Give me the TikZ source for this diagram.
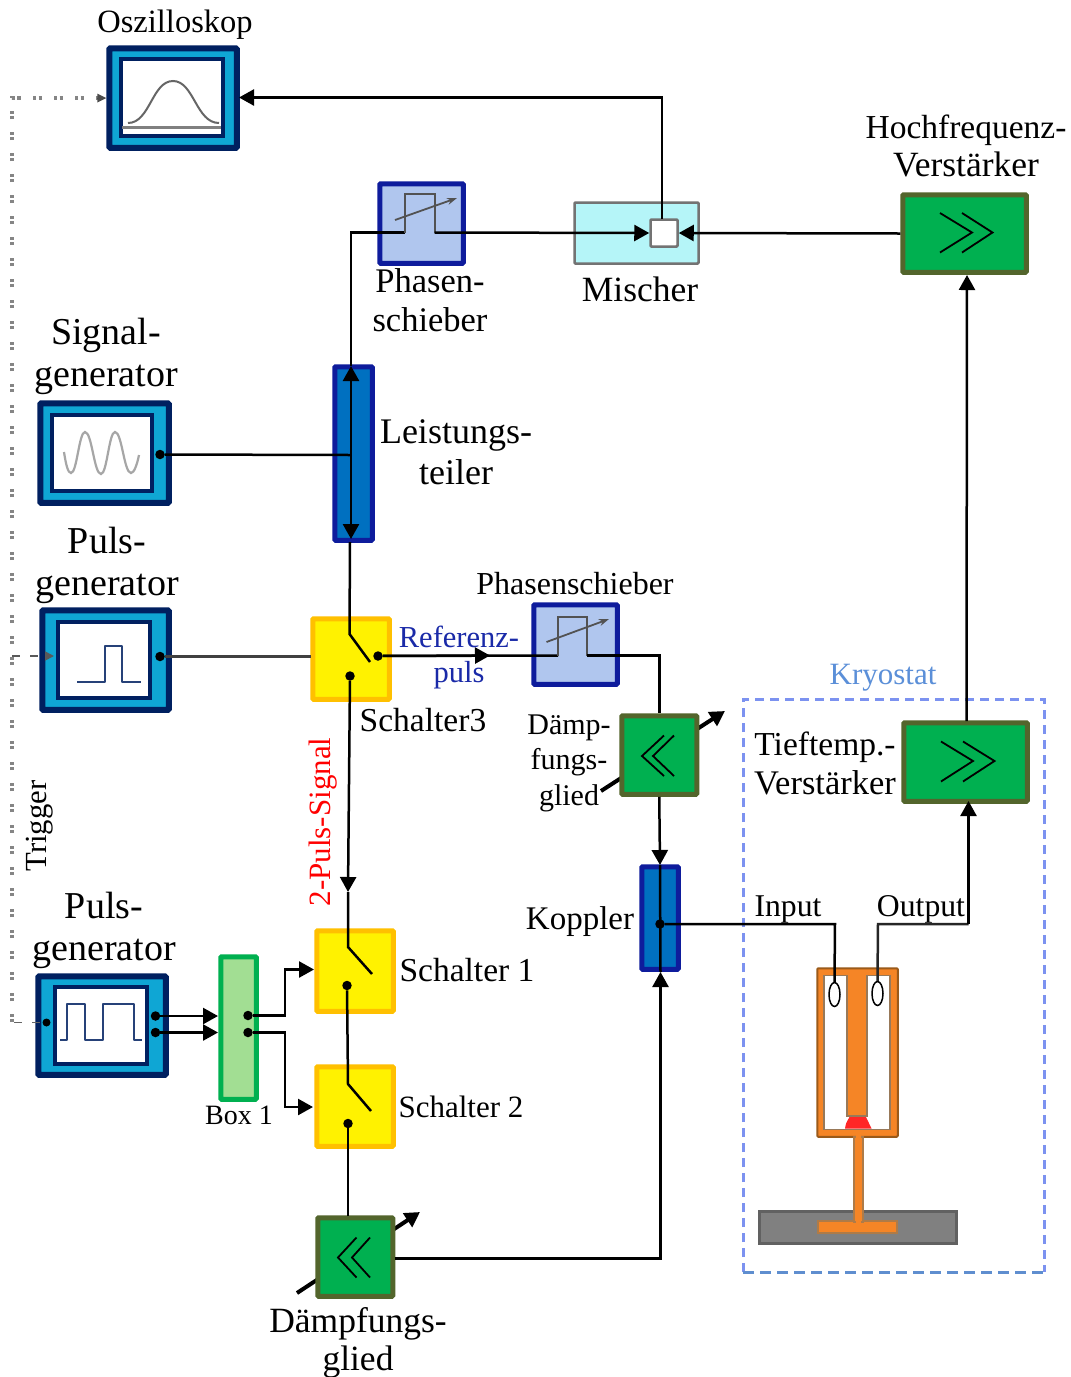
\documentclass[tikz,border=0pt]{standalone}
\usepackage{fontspec}
\setmainfont{Liberation Serif}
\usetikzlibrary{arrows.meta,shapes.geometric}
\definecolor{navyb}{HTML}{002060}
\definecolor{cyanb}{HTML}{0FA6D4}
\definecolor{royal}{HTML}{0E1C9C}
\definecolor{midb}{HTML}{0070C0}
\definecolor{paleb}{HTML}{B0C6EE}
\definecolor{mixf}{HTML}{B5F5F8}
\definecolor{amp}{HTML}{00B050}
\definecolor{ampe}{HTML}{53652C}
\definecolor{swe}{HTML}{FFC000}
\definecolor{boxf}{HTML}{A2DE93}
\definecolor{cavo}{HTML}{F58526}
\definecolor{cave}{HTML}{9A5A1A}
\definecolor{kry}{HTML}{7C92F0}
\definecolor{kryb}{HTML}{5F8ECF}
\definecolor{krytxt}{HTML}{5B8FD8}
\definecolor{reftxt}{HTML}{1A2AA8}
\newcommand{\pbox}[7]{\node[#2,line width=#3,inner sep=0,minimum width={#6-#4-#3+1.5},minimum height={#7-#5-#3+1.5}] (#1) at ({(#4+#6)/2},{(#5+#7)/2}) {};}
\newcommand{\fs}[2]{\fontsize{#1}{#2}\selectfont}
\tikzset{
 gen/.style={draw=navyb,fill=cyanb,rounded corners=1},
 screen/.style={draw=navyb,fill=white},
 shifter/.style={draw=royal,fill=paleb,rounded corners=1},
 splitter/.style={draw=royal,fill=midb,rounded corners=1},
 ampbox/.style={draw=ampe,fill=amp,rounded corners=1},
 switchbox/.style={draw=swe,fill=yellow,rounded corners=1},
 greenbox/.style={draw=amp,fill=boxf,rounded corners=1},
 wire/.style={draw=black,line width=2.5},
 bigtip/.style={-{Triangle[length=15pt,width=16pt]}},
 dot/.style={circle,fill=black,inner sep=0,minimum size=#1},
 dot/.default=9.5,
 symbolg/.style={draw=black!68,line width=2},
 chev/.style={draw=black,line width=1.8},
 diag/.style={draw=black,line width=4,-{Triangle[length=15pt,width=16pt]}},
 pulse/.style={draw=navyb!85,line width=2,line join=round},
 trig/.style={draw=black!48,line width=3.5,dash pattern=on 3pt off 2.5pt on 3pt off 12.5pt},
 trigthin/.style={draw=black!60,line width=1.8,dash pattern=on 8pt off 10pt},
 trigtip/.style={-{Triangle[length=9pt,width=9pt]}},
 lab/.style={inner sep=0,align=center,text=black},
 coupling/.style={ellipse,draw=black,fill=white,line width=1.5,inner sep=0,minimum width=11,minimum height=24},
}
\begin{document}
\begin{tikzpicture}[x=1pt,y=-1pt]
\useasboundingbox (0,0) rectangle (1071,1377);
\fill[white] (0,0) rectangle (1071,1377);

% Kryostat frame
\coordinate (krA) at (743,1272);
\coordinate (krB) at (743,699);
\coordinate (krC) at (1044,699);
\coordinate (krD) at (1044,1272);
\draw[kry,line width=3,dash pattern=on 9pt off 6pt] (krA) -- (krB) -- (krC) -- (krD);
\draw[kryb,line width=3,dash pattern=on 11pt off 6pt] (krA) -- (krD);

% trigger line
\coordinate (trTop) at (12,98);
\coordinate (trBot) at (12,1022);
\coordinate (trEnd) at (98,98);
\draw[trig] (trBot) -- (trTop) -- (trEnd);

% attenuator control arrows (behind boxes)
\coordinate (at2a) at (601,791); \coordinate (at2b) at (725,711);
\coordinate (at1a) at (297,1293); \coordinate (at1b) at (420,1212);
\draw[diag] (at2a) -- (at2b);
\draw[diag] (at1a) -- (at1b);

% Oszilloskop
\pbox{osz}{gen}{6}{107}{46}{239}{150}
\pbox{oszs}{screen}{4}{120}{58}{224}{137}
\draw[black!50,line width=2.5] (122,127.5) -- (221,127.5);
\draw[black!60,line width=2] (128,123) .. controls (150,123) and (152,81) .. (173,81) .. controls (194,81) and (196,123) .. (219,123);

% Signalgenerator
\pbox{sig}{gen}{6}{38}{401}{171}{505}
\pbox{sigs}{screen}{4}{51}{414}{153}{492}
\draw[black!35,line width=2.2] (64,452) .. controls (66,465) and (68,473) .. (71,473) .. controls (77,473) and (79,432) .. (85,432) .. controls (92,432) and (94,474) .. (101,474) .. controls (107,474) and (109,432) .. (115,432) .. controls (122,432) and (124,473) .. (131,473) .. controls (134,473) and (137,465) .. (139,455);

% Pulsgenerator (single)
\pbox{pg}{gen}{6}{40}{608}{171}{712}
\pbox{pgs}{screen}{4}{57}{621}{151}{699}
\draw[pulse] (77,681.5) -- (105,681.5) -- (105,645.5) -- (122,645.5) -- (122,681.5) -- (141,681.5);

% Pulsgenerator (double)
\pbox{pd}{gen}{6}{36}{974}{168}{1077}
\pbox{pds}{screen}{4}{54}{986}{148}{1065}
\draw[pulse] (60,1040) -- (67,1040) -- (67,1004) -- (84.5,1004) -- (84.5,1040) -- (103,1040) -- (103,1004) -- (133.5,1004) -- (133.5,1040) -- (142,1040);

% boxes
\pbox{ph}{shifter}{5}{378}{182}{465}{265}
\pbox{mix}{draw=black!55,fill=mixf,rounded corners=1}{2.5}{574}{202}{699}{264}
\pbox{mixc}{draw=black!55,fill=white,rounded corners=1}{2.5}{650}{219}{678}{247}
\pbox{hf}{ampbox}{5}{901}{193}{1028}{274}
\pbox{ps}{splitter}{5}{333}{365}{374}{542}
\pbox{sw}{switchbox}{5}{311}{617}{391}{701}
\pbox{swa}{switchbox}{5}{315}{929}{395}{1013}
\pbox{swb}{switchbox}{5}{315}{1065}{395}{1148}
\pbox{phb}{shifter}{5}{532}{603}{619}{686}
\pbox{ata}{ampbox}{5}{620}{714}{698.5}{796}
\pbox{atb}{ampbox}{5}{316}{1216}{394.5}{1298}
\pbox{kop}{splitter}{5}{640}{865}{680}{971}
\pbox{tt}{ampbox}{5}{902}{721}{1029}{803}
\pbox{bx}{greenbox}{5}{219}{955}{258}{1101}

% Kavität
\pbox{plate}{draw=black!62,fill=black!50}{2.5}{759}{1211}{957}{1244}
\pbox{cav}{draw=cave,fill=cavo,rounded corners=1}{2}{817}{968}{898}{1137}
\path[fill=white,draw=cave!70!black!70,line width=1.5] (824,975.5) -- (847,975.5) -- (847,1116) -- (867,1116) -- (867,975.5) -- (890,975.5) -- (890,1129.5) -- (824,1129.5) -- cycle;
\path[fill=red!85!white] (845,1128.5) .. controls (846,1123) .. (849.5,1117) -- (866,1117) .. controls (869,1123) .. (871.5,1128.5) -- cycle;
\pbox{foot}{draw=cave!80,fill=cavo}{1.5}{818}{1221}{897}{1233}
\pbox{stem}{draw=cave!80,fill=cavo}{1.5}{854}{1137}{863}{1222}
\fill[cavo] (856,1135) rectangle (861,1223);
\node[coupling] (cin) at (834.5,994.5) {};
\node[coupling] (cout) at (877.5,993.5) {};

% dots
\node[dot] (dsig) at (160,454.5) {};
\node[dot] (dpg) at (160,656.5) {};
\node[dot=8] (dpdin) at (46.5,1022.5) {};
\node[dot] (dpda) at (155.5,1016) {};
\node[dot] (dpdb) at (155.5,1032.5) {};
\node[dot] (dbxa) at (248,1015.5) {};
\node[dot] (dbxb) at (248,1032.5) {};
\node[dot] (dswr) at (378,656) {};
\node[dot] (dswb) at (350,676) {};
\node[dot] (dsab) at (347,985.5) {};
\node[dot] (dsbb) at (348,1123.5) {};
\node[dot] (dkop) at (660,924) {};

% port coordinates
\coordinate (phL) at (405,232.5); \coordinate (phR) at (434.5,232.5);
\coordinate (phbL) at (558,655.5); \coordinate (phbR) at (587,655.5);
\coordinate (refmid) at (490,655.5);
\coordinate (swHinge) at (349.5,634); \coordinate (swArm) at (370,662);
\coordinate (saHinge) at (348,947); \coordinate (saArm) at (372,974);
\coordinate (sbHinge) at (348,1084); \coordinate (sbArm) at (371,1111);
\coordinate (psT) at (351,366); \coordinate (psB) at (351,539);
\coordinate (psIn) at (351,455);
\coordinate (swTop) at (350,542);
\coordinate (sa2) at (348,892);
\coordinate (oszIn) at (239,97.5);
\coordinate (mixT) at (662,219);
\coordinate (swIn) at (311,656.5);
\coordinate (atbT) at (348,1216);
\coordinate (inCorner) at (835,924); \coordinate (outCorner) at (878,924);
\coordinate (outUp) at (968.5,924); \coordinate (ttB) at (968.5,801);
\coordinate (hfB) at (967,275); \coordinate (ttT) at (966.5,721);
\coordinate (kopB) at (660.5,972); \coordinate (kopT) at (660,865);
\coordinate (atbR) at (394.5,1258.5); \coordinate (atbTurn) at (660.5,1258.5);
\coordinate (bxInA) at (218,1016); \coordinate (bxInB) at (218,1032.5);
\coordinate (turnA) at (285,1015.5); \coordinate (turnB) at (285,1032.5);
\coordinate (sIn1) at (314,969.5); \coordinate (sIn2) at (313,1107);

% connectors
\draw[wire,bigtip] (mixT) |- (oszIn);
\draw[wire] (psT) |- (phL);
\draw[symbolg] (phL) -- (405,194) -- (434.5,194) -- (phR);
\draw[black!68,line width=1.8,-{Stealth[length=10pt,width=7pt]}] (395,220) -- (457,198);
\draw[wire,bigtip] (phR) -- (mixc.west);
\draw[wire,bigtip] (hf.west) -- (mixc.east);
\draw[wire,bigtip] (ttT) -- (hfB);
\draw[wire] (dsig) -- (psIn);
\draw[wire,{Triangle[length=15pt,width=16pt]}-{Triangle[length=15pt,width=16pt]}] (psT) -- (psB);
\draw[wire] (swTop) -- (swHinge) -- (swArm);
\draw[black!75,line width=2.5] (dpg) -- (swIn);
\draw[wire,bigtip] (dswr) -- (refmid);
\draw[wire] (dswr) -- (phbL);
\draw[symbolg] (phbL) -- (558,617) -- (587,617) -- (phbR);
\draw[black!68,line width=1.8,-{Stealth[length=10pt,width=7pt]}] (546.5,642) -- (609,619);
\draw[wire] (phbR) -| (ata.north);
\draw[wire,bigtip] (ata.south) -- (kopT);
\draw[wire] (kopT) -- (kopB);
\draw[wire,bigtip] (dswb) -- (sa2);
\draw[wire] (sa2) -- (saHinge) -- (saArm);
\draw[wire] (dsab) -- (sbHinge) -- (sbArm);
\draw[wire] (dsbb) -- (atbT);
\draw[wire,bigtip] (atbR) -- (atbTurn) -- (kopB);
\draw[wire] (dkop) -- (inCorner) -- (cin.north);
\draw[wire,black!85] (cout.north) -- (outCorner) -- (outUp);
\draw[wire,bigtip] (outUp) -- (ttB);
\draw[wire,bigtip] (dpda) -- (bxInA);
\draw[wire,bigtip] (dpdb) -- (bxInB);
\draw[wire,bigtip] (dbxa) -- (turnA) |- (sIn1);
\draw[wire,bigtip] (dbxb) -- (turnB) |- (sIn2);

% trigger feeds
\coordinate (trPg) at (12,656);
\coordinate (trPgTip) at (54,656);
\coordinate (trPd) at (14,1022.5);
\draw[trigthin,trigtip,draw=black!65] (trPg) -- (trPgTip);
\draw[trigthin] (trPd) -- (dpdin);
\draw[black!70,line width=0,-{Triangle[length=9pt,width=9pt]}] (trEnd) -- (osz.west);

% chevrons
\draw[chev] (940,213) -- (972,232.5) -- (940,252.5);
\draw[chev] (962,213) -- (992.5,232.5) -- (962,252.5);
\draw[chev] (941,741.5) -- (973,761) -- (941,781.5);
\draw[chev] (963,741.5) -- (994.5,761) -- (963,781.5);
\draw[chev] (664,735.5) -- (642,756) -- (664,776);
\draw[chev] (674,735.5) -- (653,756) -- (674,776);
\draw[chev] (356.5,1237.5) -- (338,1257.5) -- (356.5,1277.5);
\draw[chev] (370,1237.5) -- (352,1257.5) -- (370,1277.5);

% labels
\node[lab,font=\fs{32.5}{38}] (tOsz) at (175,25) {Oszilloskop};
\node[lab,font=\fs{33.5}{38}] (tHf) at (966,146) {Hochfrequenz-\\\fs{35.5}{38}Verstärker};
\node[lab,font=\fs{34.5}{39}] (tPh) at (430,300) {Phasen-\\schieber};
\node[lab,font=\fs{35.5}{38}] (tMix) at (640,289) {Mischer};
\node[lab,font=\fs{38}{42}] (tSig) at (106,356) {Signal-\\generator};
\node[lab,font=\fs{36}{41}] (tLt) at (456,452) {Leistungs-\\teiler};
\node[lab,font=\fs{38}{42}] (tPg) at (107,565) {Puls-\\generator};
\node[lab,font=\fs{32}{36}] (tPhb) at (575,584) {Phasenschieber};
\node[lab,font=\fs{30.5}{35},text=reftxt] (tRef) at (459,657) {Referenz-\\puls};
\node[lab,font=\fs{33.5}{38}] (tS3) at (423,720) {Schalter3};
\node[lab,font=\fs{31}{36},text=krytxt] (tKr) at (883,678) {Kryostat};
\node[lab,font=\fs{33.5}{39}] (tTt) at (825,763) {Tieftemp.-\\\fs{34.5}{39}Verstärker};
\node[lab,font=\fs{30}{35.5}] (tDa) at (569,763) {Dämp-\\fungs-\\glied};
\node[lab,font=\fs{30.7}{36},rotate=90] (tTr) at (40,826) {Trigger};
\node[lab,font=\fs{31}{36},rotate=90,text=red] (tPs) at (323,822) {2-Puls-Signal};
\node[lab,font=\fs{38}{42}] (tPd) at (104,930) {Puls-\\generator};
\node[lab,font=\fs{28}{32}] (tBx) at (239,1115) {Box 1};
\node[lab,font=\fs{33.5}{38}] (tSa) at (467,970) {Schalter 1};
\node[lab,font=\fs{31}{36}] (tSb) at (461,1107) {Schalter 2};
\node[lab,font=\fs{33}{38}] (tKop) at (580,922) {Koppler};
\node[lab,font=\fs{31.7}{36}] (tIn) at (788,909) {Input};
\node[lab,font=\fs{31.7}{36}] (tOut) at (921,909) {Output};
\node[lab,font=\fs{35.5}{38}] (tDb) at (358,1343) {Dämpfungs-\\glied};
\end{tikzpicture}
\end{document}
